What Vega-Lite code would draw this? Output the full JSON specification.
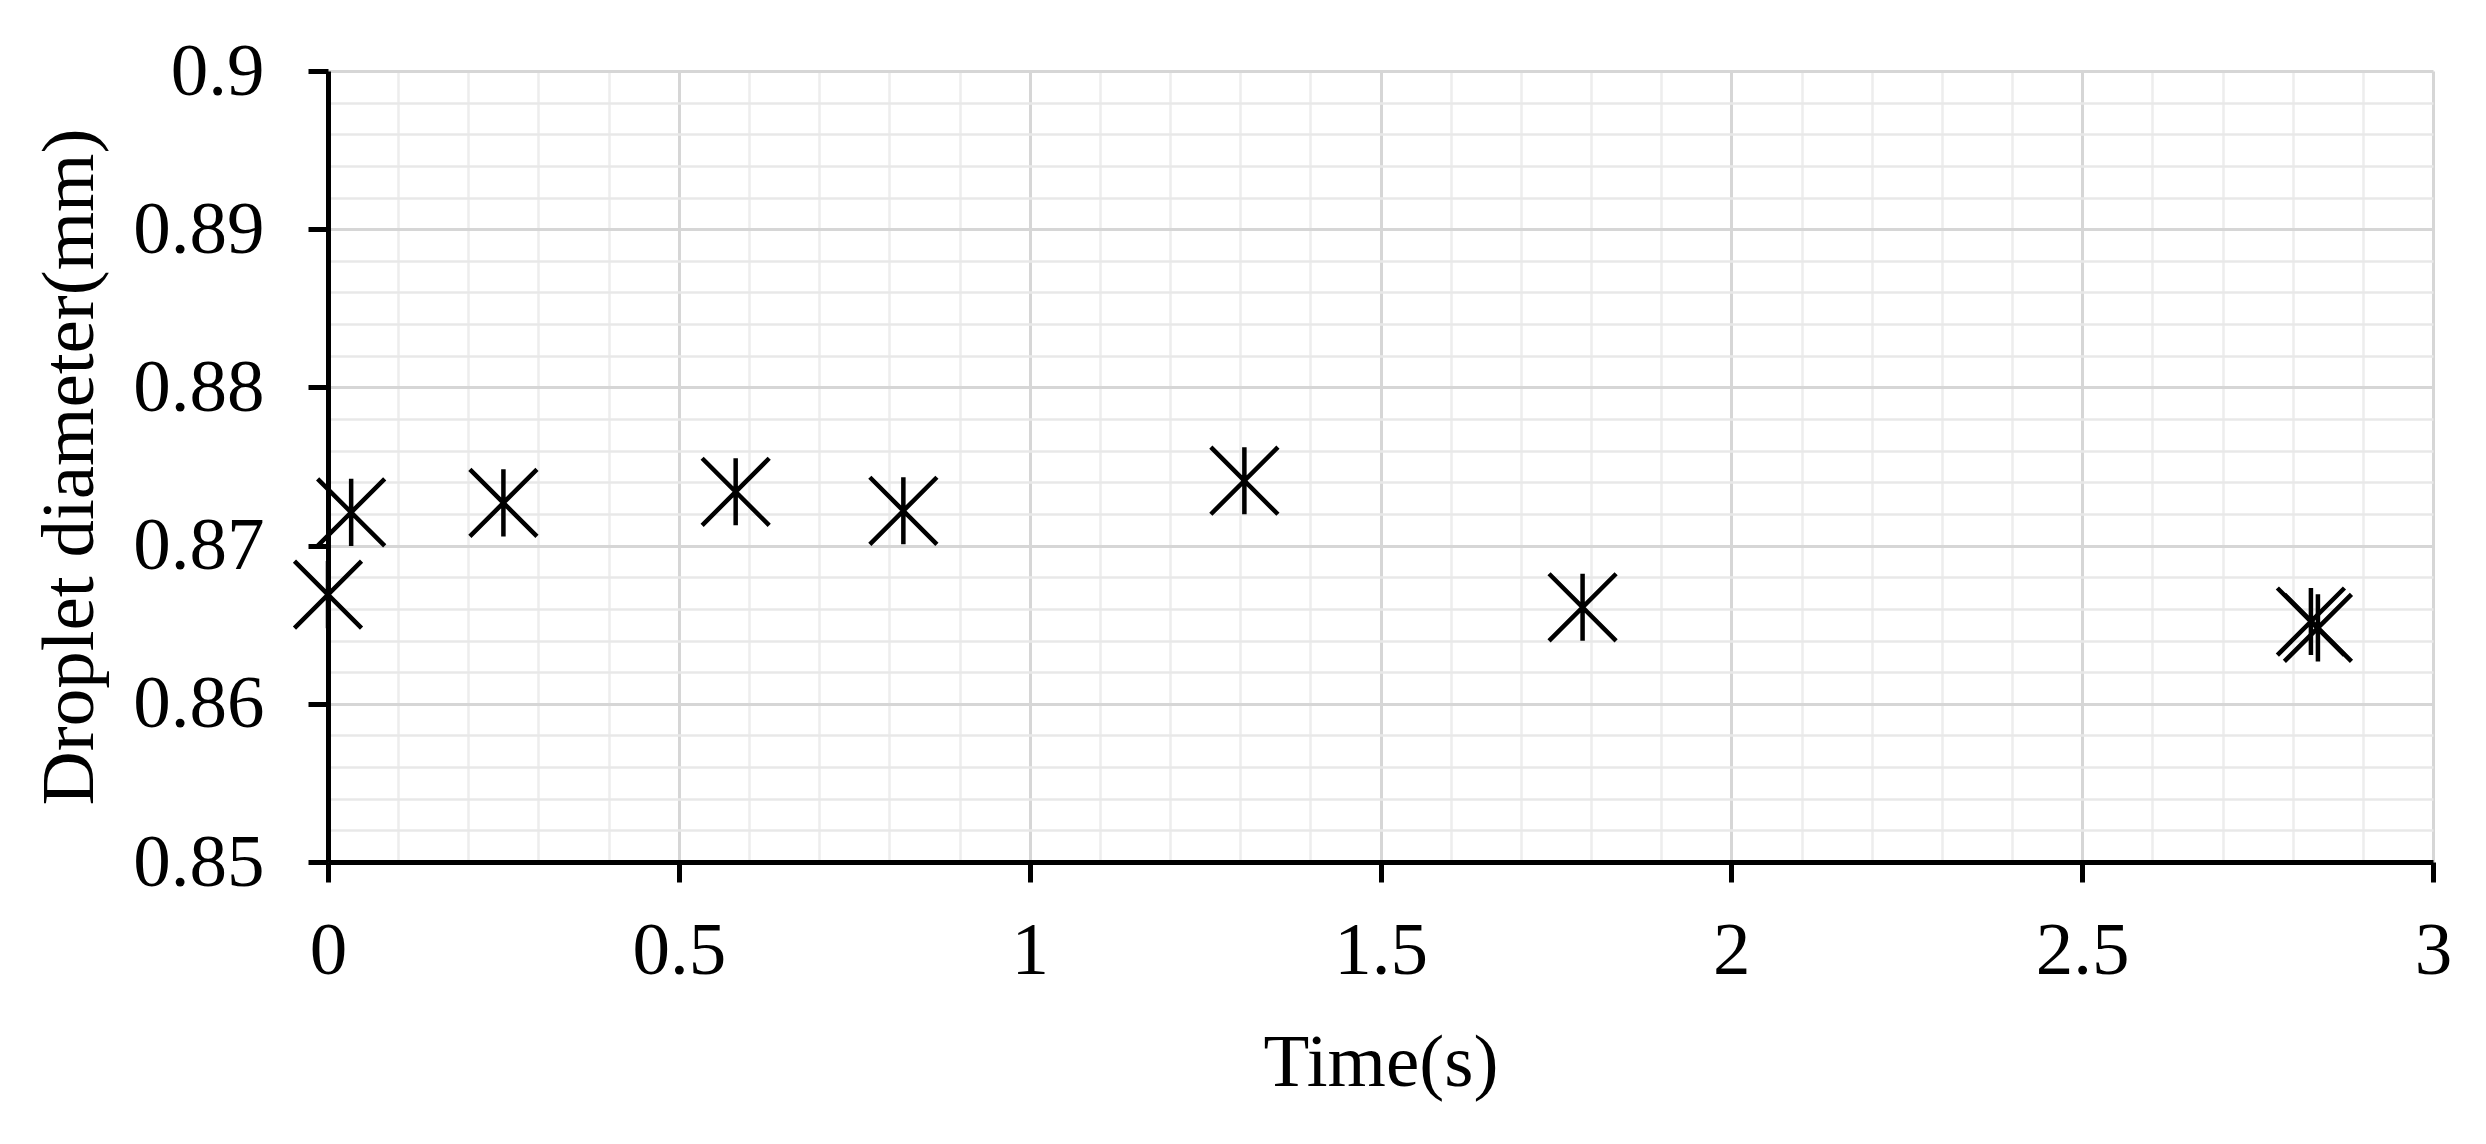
{
  "$schema": "https://vega.github.io/schema/vega-lite/v6.json",
  "autosize": {"type": "none"},
  "padding": {"left": 328, "top": 71, "right": 53, "bottom": 282},
  "width": 2105,
  "height": 791,
  "background": "white",
  "config": {
    "view": {"stroke": null},
    "font": "Liberation Serif"
  },
  "data": {
    "values": [
      {"time": 0, "diameter": 0.8669},
      {"time": 0.033, "diameter": 0.8721},
      {"time": 0.25, "diameter": 0.8727},
      {"time": 0.581, "diameter": 0.8734},
      {"time": 0.82, "diameter": 0.8722},
      {"time": 1.306, "diameter": 0.8741},
      {"time": 1.788, "diameter": 0.8661},
      {"time": 2.826, "diameter": 0.8652},
      {"time": 2.836, "diameter": 0.8648}
    ]
  },
  "resolve": {"axis": {"x": "independent", "y": "independent"}},
  "layer": [
    {
      "mark": {"type": "point", "opacity": 0},
      "encoding": {
        "x": {
          "field": "time", "type": "quantitative",
          "scale": {"domain": [0, 3], "nice": false, "zero": false},
          "axis": {
            "orient": "bottom",
            "values": [0.1, 0.2, 0.3, 0.4, 0.6, 0.7, 0.8, 0.9, 1.1, 1.2, 1.3, 1.4, 1.6, 1.7, 1.8, 1.9, 2.1, 2.2, 2.3, 2.4, 2.6, 2.7, 2.8, 2.9],
            "grid": true, "gridColor": "#ededed", "gridWidth": 2.5,
            "labels": false, "ticks": false, "domain": false, "title": null
          }
        },
        "y": {
          "field": "diameter", "type": "quantitative",
          "scale": {"domain": [0.85, 0.9], "nice": false, "zero": false},
          "axis": {
            "orient": "left",
            "values": [0.852, 0.854, 0.856, 0.858, 0.862, 0.864, 0.866, 0.868, 0.872, 0.874, 0.876, 0.878, 0.882, 0.884, 0.886, 0.888, 0.892, 0.894, 0.896, 0.898],
            "grid": true, "gridColor": "#e8e8e8", "gridWidth": 2.5,
            "labels": false, "ticks": false, "domain": false, "title": null
          }
        }
      }
    },
    {
      "mark": {
        "type": "point",
        "shape": "M-1,-1L1,1M-1,1L1,-1M0,-1L0,1",
        "size": 4500,
        "filled": false,
        "stroke": "black",
        "strokeWidth": 4.5,
        "opacity": 1
      },
      "encoding": {
        "x": {
          "field": "time", "type": "quantitative",
          "scale": {"domain": [0, 3], "nice": false, "zero": false},
          "axis": {
            "orient": "bottom",
            "values": [0, 0.5, 1, 1.5, 2, 2.5, 3],
            "format": "~g",
            "grid": true, "gridColor": "#d6d6d6", "gridWidth": 3,
            "domain": true, "domainColor": "black", "domainWidth": 5,
            "ticks": true, "tickColor": "black", "tickWidth": 5, "tickSize": 20,
            "labelFont": "Liberation Serif", "labelFontSize": 75, "labelColor": "black",
            "labelPadding": 32, "labelFlush": false, "labelOverlap": false,
            "title": "Time(s)",
            "titleFont": "Liberation Serif", "titleFontSize": 75, "titleFontWeight": "normal", "titleColor": "black",
            "titleBaseline": "alphabetic", "titleY": 223
          }
        },
        "y": {
          "field": "diameter", "type": "quantitative",
          "scale": {"domain": [0.85, 0.9], "nice": false, "zero": false},
          "axis": {
            "orient": "left",
            "values": [0.85, 0.86, 0.87, 0.88, 0.89, 0.9],
            "format": "~g",
            "grid": true, "gridColor": "#d6d6d6", "gridWidth": 3,
            "domain": true, "domainColor": "black", "domainWidth": 5,
            "ticks": true, "tickColor": "black", "tickWidth": 5, "tickSize": 20,
            "labelFont": "Liberation Serif", "labelFontSize": 75, "labelColor": "black",
            "labelPadding": 44, "labelFlush": false, "labelOverlap": false,
            "title": "Droplet diameter(mm)",
            "titleFont": "Liberation Serif", "titleFontSize": 75, "titleFontWeight": "normal", "titleColor": "black",
            "titleAngle": 270, "titleBaseline": "alphabetic", "titleAlign": "center",
            "titleX": -236, "titleY": 395.5
          }
        }
      }
    }
  ]
}
